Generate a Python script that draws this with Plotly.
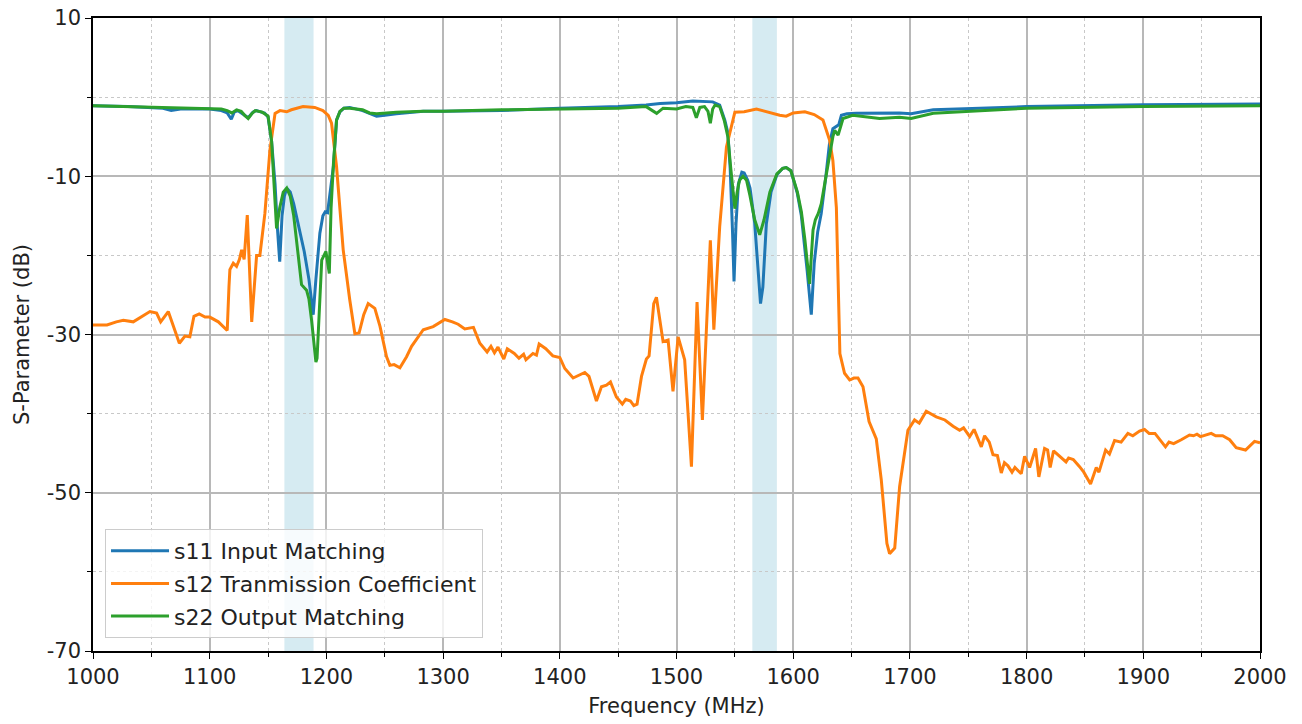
import plotly.graph_objects as go

# ---------------- data ----------------
s11_freq = [1000, 1030, 1060, 1067, 1075, 1100, 1110, 1115, 1118.5, 1121, 1124, 1128, 1133, 1137, 1140, 1147, 1150,
            1153, 1156, 1158, 1160, 1162, 1164, 1166, 1169, 1172, 1177, 1181, 1185, 1188.7, 1191, 1194.4, 1197, 1199,
            1201, 1203.5, 1206, 1208.7, 1211.6, 1215, 1220, 1231, 1237, 1243, 1250, 1260, 1283, 1300, 1350, 1400,
            1450, 1474, 1486, 1500, 1514, 1525, 1531, 1537, 1541.4, 1544, 1546, 1548, 1549.3, 1551, 1553, 1556, 1558,
            1561, 1563, 1567, 1570, 1572, 1574, 1577, 1581, 1586, 1591, 1594, 1598, 1603.6, 1607, 1609.4, 1612,
            1615.5, 1618, 1621, 1624, 1628, 1631, 1634, 1636, 1639, 1641.3, 1646, 1654, 1674, 1691, 1701, 1710, 1720,
            1760, 1800, 1900, 2000]
s11_db = [-1.1, -1.2, -1.4, -1.7, -1.5, -1.5, -1.7, -2.0, -2.8, -1.9, -1.7, -2.1, -2.6, -1.9, -1.7, -2.0, -2.5,
          -5.5, -11, -16.5, -20.8, -15, -12.5, -11.5, -12, -13.5, -16.8, -19.5, -23, -27.5, -23, -17.2, -15, -14.5,
          -14.6, -12, -8.8, -2.9, -1.85, -1.4, -1.3, -1.7, -2.1, -2.4, -2.3, -2.1, -1.8, -1.8, -1.7, -1.4,
          -1.2, -1.0, -0.8, -0.7, -0.5, -0.6, -0.6, -1.0, -2.9, -4.5, -9, -17, -23.3, -16, -11, -9.5, -9.6,
          -10.5, -11.5, -15.9, -22, -26.1, -24, -16, -12, -9.8, -9.0, -8.9, -9.3, -12.2, -15, -18.1, -22,
          -27.5, -21, -17, -14.7, -10, -6, -4, -3.8, -3.5, -2.3, -2.1, -2.05, -2.05, -2.0, -2.1, -1.9, -1.6,
          -1.4, -1.2, -0.95, -0.87]

s12_freq = [1000, 1012, 1020, 1026, 1034.5, 1042, 1048.8, 1054.5, 1058, 1064.5, 1069, 1074, 1078.8, 1083, 1086.5,
            1091, 1096, 1100, 1107.4, 1112, 1115, 1116.5, 1117.3, 1120.2, 1123, 1125.5, 1127.4, 1129.5, 1132.2,
            1136, 1140.2, 1143, 1147.3, 1151.6, 1156, 1160.2, 1166, 1170, 1180, 1190, 1197, 1201.6, 1204.4,
            1208.7, 1214.4, 1220, 1224.4, 1228, 1232, 1235.8, 1241.5, 1246, 1251.5, 1254.4, 1258, 1263, 1268.7,
            1273, 1278, 1283, 1291.5, 1301.5, 1308, 1312.9, 1318.6, 1324, 1326, 1331.5, 1337.7, 1341, 1344, 1347,
            1352, 1355, 1361, 1365, 1369, 1371, 1377, 1380, 1382.3, 1388, 1394, 1400, 1404.3, 1411.4, 1415.7,
            1421.4, 1425, 1431.4, 1435.7, 1440, 1443.4, 1448.5, 1453.6, 1456.5, 1460.5, 1463.4, 1466.2, 1470,
            1474.2, 1476.5, 1480.5, 1482.8, 1488.5, 1492.8, 1497, 1501.4, 1507, 1512.8, 1517.6, 1522.2, 1529,
            1532, 1537, 1542.8, 1550, 1558, 1568.5, 1580, 1588.4, 1594, 1600, 1610, 1618, 1625.5, 1631.3, 1634,
            1637, 1640, 1644, 1648.4, 1652, 1655.5, 1659.8, 1665, 1671.2, 1675.5, 1680.3, 1682.6, 1687, 1691.2,
            1698.3, 1704, 1708, 1714, 1718, 1722.6, 1730, 1737, 1742.6, 1746, 1751.2, 1755, 1761.2, 1764, 1768,
            1771.2, 1775, 1778.3, 1781, 1784, 1787.5, 1790, 1795.4, 1798.3, 1802.6, 1807.7, 1810.5, 1815.4, 1818,
            1820.2, 1823.1, 1828, 1833.8, 1836, 1840, 1845.4, 1849, 1854.8, 1859.7, 1862, 1867.7, 1871, 1875.4,
            1881, 1886.8, 1891, 1896.8, 1901, 1905, 1910, 1914, 1919, 1922, 1926, 1932.5, 1939.6, 1943, 1946,
            1949, 1953, 1958.2, 1962, 1968, 1974, 1979.6, 1987.6, 1995.3, 2000]
s12_db = [-28.8, -28.8, -28.4, -28.2, -28.4, -27.7, -27.1, -27.3, -28.4, -27.1, -29, -31.1, -30.2, -30.3, -27.7,
          -27.4, -27.8, -27.8, -28.4, -29, -29.5, -24, -21.8, -21, -21.4, -20.5, -19.3, -20.5, -14.9,
          -28.4, -20, -20, -14.7, -6.7, -2.05, -1.7, -1.85, -1.6, -1.2, -1.3, -1.7, -2.3, -3.3,
          -8.8, -19.3, -25.6, -29.9, -29.8, -27.5, -26.1, -26.7, -29, -32.8, -33.9, -33.8, -34.2, -32.8,
          -31.5, -30.5, -29.4, -29, -28.1, -28.4, -28.7, -29.3, -29.2, -29.1, -31.1, -32.2, -31.5, -32.3, -31.6,
          -33.1, -31.8, -32.4, -33.0, -32.5, -33.2, -32.4, -32.6, -31.2, -31.8, -32.7, -32.9, -34.3, -35.5, -35.2,
          -34.8, -35.3, -38.4, -36.6, -36.4, -36.0, -37.9, -38.8, -38.2, -38.4, -39.0, -38.8, -35.3,
          -33.1, -32.7, -26.1, -25.3, -30.9, -30.7, -37.2, -30.3, -33.2, -46.7, -25.9, -40.8, -18.1,
          -29.4, -16.4, -6.3, -1.9, -1.85, -1.5, -2.0, -2.3, -2.4, -2.0, -1.85, -2.2, -2.9, -5.5, -8,
          -14, -32.4, -34.9, -35.75, -35.5, -35.5, -36.6, -41, -43.2, -48.4, -56.4, -57.7, -57.0, -49.2,
          -42.1, -40.8, -41.2, -39.7, -40.0, -40.4, -40.8, -41.6, -42.1, -41.8, -42.9, -42.0, -44.2, -42.8, -43.6,
          -45.2, -45.3, -47.5, -46.2, -46.6, -47.4, -46.8, -47.6, -45.4, -46.8, -44.4, -48.0, -44.4, -44.6,
          -46.8, -44.7, -45.4, -46.1, -45.6, -45.8, -46.7, -47.4, -48.9, -46.8, -47.4, -44.6, -45.1, -43.4,
          -43.6, -42.5, -42.8, -42.2, -42.0, -42.5, -42.5, -43.2, -44.2, -43.6, -43.8, -43.3, -42.7, -42.8, -42.6,
          -42.9, -42.7, -42.5, -42.8, -42.8, -43.3, -44.3, -44.6, -43.5, -43.7]

s22_freq = [1000, 1030, 1060, 1075, 1100, 1110, 1115, 1119, 1123, 1127, 1130, 1133, 1136, 1139, 1145, 1150, 1153,
            1155, 1157.3, 1160, 1163, 1166, 1169, 1172, 1175, 1178.7, 1183, 1185, 1187.3, 1189, 1191, 1192, 1194,
            1196, 1199.6, 1202.5, 1204, 1206, 1208.7, 1211.6, 1215, 1220, 1231, 1237, 1243, 1250, 1260, 1283,
            1300, 1350, 1400, 1450, 1474, 1480, 1483, 1488.5, 1500, 1508, 1514, 1517, 1520, 1524, 1527, 1529,
            1531, 1533, 1537, 1541, 1544, 1546.5, 1548.5, 1550, 1552, 1554, 1557, 1560, 1563, 1567, 1571.3, 1575,
            1580, 1586, 1591, 1594, 1598, 1603.6, 1607, 1610, 1614, 1616, 1617, 1619, 1621.5, 1624, 1628, 1631.3,
            1634, 1635.6, 1638.5, 1642.7, 1651, 1674, 1691, 1701, 1720, 1800, 1900, 2000]
s22_db = [-1.1, -1.2, -1.35, -1.35, -1.4, -1.5, -1.7, -2.0, -1.6, -1.8, -2.3, -2.7, -2.1, -1.7, -1.9, -2.4, -5.5,
          -10, -16.6, -14, -12, -11.5, -12.5, -15, -19, -23.7, -24.4, -25.5, -28.2, -31, -33.5, -33, -26,
          -20.6, -19.5, -22.3, -14, -8.5, -2.9, -1.8, -1.4, -1.4, -1.6, -2.0, -2.1, -2.0, -1.9, -1.8,
          -1.8, -1.6, -1.5, -1.4, -1.2, -1.7, -2.05, -1.4, -1.5, -1.2, -1.3, -2.6, -1.3, -1.2, -1.8, -3.3,
          -1.5, -1.0, -1.2, -3.0, -5, -9, -12.5, -14.1, -12, -10.5, -10, -10.5, -12.5, -15.5, -17.4, -15.5,
          -12, -9.7, -9.0, -8.9, -9.3, -12.0, -14.5, -18, -23.6, -19, -16.8, -15.5, -14.7, -13.5, -10, -7.1,
          -5, -4.2, -4.8, -2.7, -2.3, -2.7, -2.55, -2.7, -2.05, -1.4, -1.2, -1.1]

series_names = ["s11 Input Matching", "s12 Tranmission Coefficient", "s22 Output Matching"]
series_colors = ["#1f77b4", "#ff7f0e", "#2ca02c"]

bands = [(1164, 1189), (1565, 1586)]

x_ticks = [1000, 1100, 1200, 1300, 1400, 1500, 1600, 1700, 1800, 1900, 2000]
y_ticks = [10, -10, -30, -50, -70]
y_minor = [0, -20, -40, -60]

# ---------------- figure ----------------
FONT = "DejaVu Sans"
fig = go.Figure()

for i, (fx, fy) in enumerate([(s11_freq, s11_db), (s12_freq, s12_db), (s22_freq, s22_db)]):
    fig.add_trace(go.Scatter(
        x=fx, y=fy, mode="lines", name=series_names[i],
        legendgroup=f"g{i}",
        line=dict(color=series_colors[i], width=3),
    ))

for (a, b) in bands:
    fig.add_shape(type="rect", xref="x", yref="paper", x0=a, x1=b, y0=0, y1=1,
                  fillcolor="rgba(173,216,230,0.5)", line=dict(width=0), layer="below")

fig.update_layout(
    width=1302, height=724,
    margin=dict(l=85, r=50, t=10, b=81, autoexpand=False),
    paper_bgcolor="white", plot_bgcolor="white",
    font=dict(family=FONT, size=21, color="#222"),
    showlegend=True,
    legend=dict(
        x=0.0103, y=0.0205, xanchor="left", yanchor="bottom",
        bgcolor="rgba(255,255,255,0.8)", bordercolor="#cccccc", borderwidth=1,
        font=dict(family=FONT, size=22, color="#222"),
        tracegroupgap=1, itemwidth=58,
    ),
)

fig.update_xaxes(
    range=[1000, 2000], tickvals=x_ticks, ticktext=[str(v) for v in x_ticks],
    automargin=False, ticklabeloverflow="allow",
    showgrid=True, gridcolor="#b8b8b8", gridwidth=1.5,
    showline=True, mirror=True, linecolor="black", linewidth=1.5,
    ticks="outside", ticklen=6, tickwidth=1.3, tickcolor="black",
    tickfont=dict(family=FONT, size=21, color="#222"),
    minor=dict(dtick=50, tick0=1000, showgrid=True, griddash="dot", gridcolor="#c8c8c8", gridwidth=1,
               ticks="outside", ticklen=4, tickcolor="black"),
    title=dict(text="Frequency (MHz)", font=dict(family=FONT, size=21, color="#222"), standoff=10),
    zeroline=False,
)
fig.update_yaxes(
    range=[-70, 10], tickvals=y_ticks, ticktext=[str(v) for v in y_ticks],
    automargin=False, ticklabeloverflow="allow",
    showgrid=True, gridcolor="#b8b8b8", gridwidth=1.5,
    showline=True, mirror=True, linecolor="black", linewidth=1.5,
    ticks="outside", ticklen=6, tickwidth=1.3, tickcolor="black",
    tickfont=dict(family=FONT, size=21, color="#222"),
    minor=dict(tickvals=y_minor, showgrid=True, griddash="dot", gridcolor="#c8c8c8", gridwidth=1,
               ticks="outside", ticklen=4, tickcolor="black"),
    title=dict(text="S-Parameter (dB)", font=dict(family=FONT, size=21, color="#222"), standoff=11),
    zeroline=False,
)

fig.write_html("out.html")
